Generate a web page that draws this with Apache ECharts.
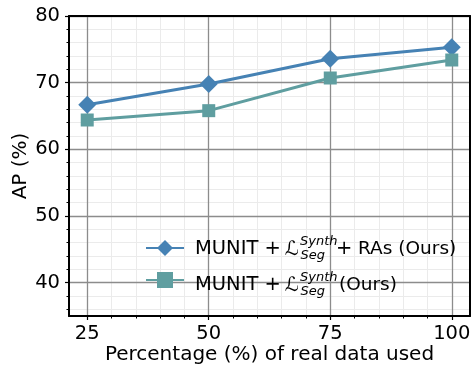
<!DOCTYPE html>
<html>
<head>
<meta charset="utf-8">
<script src="https://cdn.jsdelivr.net/npm/echarts@6/dist/echarts.min.js"></script>
<style>
html,body{margin:0;padding:0;background:#fff;}
#c{width:473px;height:367px;}
</style>
</head>
<body>
<div id="c"></div>
<script>
// ---- data ----
const xValues = [25, 50, 75, 100];
const seriesRAs = [66.7, 69.8, 73.6, 75.3];
const seriesBase = [64.4, 65.8, 70.7, 73.4];
const seriesNames = ['MUNIT + L Synth Seg + RAs (Ours)', 'MUNIT + L Synth Seg (Ours)'];
const xMajorTicks = [25, 50, 75, 100];
const yMajorTicks = [40, 50, 60, 70, 80];
const xMinorTicks = [];
for (let v = 20; v <= 105; v += 5) if (xMajorTicks.indexOf(v) < 0) xMinorTicks.push(v);
const yMinorTicks = [];
for (let v = 36; v <= 80; v += 2) if (yMajorTicks.indexOf(v) < 0) yMinorTicks.push(v);
const xRange = [21.25, 103.75];
const yRange = [35, 80];
const xTitle = 'Percentage (%) of real data used';
const yTitle = 'AP (%)';

const FONT = 'DejaVu Sans';
const FS = 19.5;
const MAJOR = '#8c8c8c';
const MINOR = '#ebebeb';
const C1 = '#4682B4';
const C2 = '#5F9EA0';

const chart = echarts.init(document.getElementById('c'), null, {renderer: 'canvas'});

function frameAxis(pos, isX) {
  return {
    type: 'value', position: pos, min: isX ? xRange[0] : yRange[0], max: isX ? xRange[1] : yRange[1],
    z: 10,
    axisLine: {show: true, onZero: false, lineStyle: {color: '#000', width: 2}},
    axisTick: {show: false}, axisLabel: {show: false}, splitLine: {show: false}
  };
}

const option = {
  animation: false,
  backgroundColor: '#fff',
  grid: {left: 69, right: 3, top: 16, bottom: 51, containLabel: false, outerBoundsMode: 'none'},
  xAxis: [
    { // minor
      type: 'value', position: 'bottom', min: xRange[0], max: xRange[1], z: 0,
      axisLine: {show: false, onZero: false},
      axisTick: {show: true, customValues: xMinorTicks, length: 2.5, lineStyle: {color: '#000', width: 1}},
      axisLabel: {show: false},
      splitLine: {show: true, lineStyle: {color: MINOR, width: 1}}
    },
    { // major
      type: 'value', position: 'bottom', min: xRange[0], max: xRange[1], z: 1,
      axisLine: {show: false, onZero: false},
      axisTick: {show: true, customValues: xMajorTicks, length: 4, lineStyle: {color: '#000', width: 1.2}},
      axisLabel: {show: true, customValues: xMajorTicks, color: '#000', fontFamily: FONT, fontSize: FS, margin: 8},
      splitLine: {show: true, lineStyle: {color: MAJOR, width: 1.3}},
      name: xTitle, nameLocation: 'middle', nameGap: 29, nameMoveOverlap: false,
      nameTextStyle: {color: '#000', fontFamily: FONT, fontSize: 20}
    },
    frameAxis('bottom', true),
    frameAxis('top', true)
  ],
  yAxis: [
    {
      type: 'value', position: 'left', min: yRange[0], max: yRange[1], z: 0,
      axisLine: {show: false, onZero: false},
      axisTick: {show: true, customValues: yMinorTicks, length: 2.5, lineStyle: {color: '#000', width: 1}},
      axisLabel: {show: false},
      splitLine: {show: true, lineStyle: {color: MINOR, width: 1}}
    },
    {
      type: 'value', position: 'left', min: yRange[0], max: yRange[1], z: 1,
      axisLine: {show: false, onZero: false},
      axisTick: {show: true, customValues: yMajorTicks, length: 4, lineStyle: {color: '#000', width: 1.2}},
      axisLabel: {show: true, customValues: yMajorTicks, color: '#000', fontFamily: FONT, fontSize: FS, margin: 9},
      splitLine: {show: true, lineStyle: {color: MAJOR, width: 1.3}},
      name: yTitle, nameLocation: 'middle', nameGap: 38, nameRotate: 90, nameMoveOverlap: false,
      nameTextStyle: {color: '#000', fontFamily: FONT, fontSize: 20}
    },
    frameAxis('left', false),
    frameAxis('right', false)
  ],
  legend: {
    show: true, orient: 'vertical', left: 145, top: 240, padding: 0,
    itemWidth: 38, itemHeight: 20, itemGap: 16,
    formatter: function () { return ' '; },
    textStyle: {fontSize: 2},
    data: seriesNames
  },
  series: [
    {
      name: seriesNames[0], type: 'line', xAxisIndex: 1, yAxisIndex: 1,
      data: xValues.map((x, i) => [x, seriesRAs[i]]),
      symbol: 'diamond', symbolSize: 18,
      lineStyle: {color: C1, width: 3}, itemStyle: {color: C1},
      z: 3
    },
    {
      name: seriesNames[1], type: 'line', xAxisIndex: 1, yAxisIndex: 1,
      data: xValues.map((x, i) => [x, seriesBase[i]]),
      symbol: 'rect', symbolSize: 13,
      lineStyle: {color: C2, width: 3}, itemStyle: {color: C2},
      z: 3
    }
  ]
};

// legend label text (with math sub/superscripts) drawn as real text
function legendTexts(yc, second) {
  const base = {fill: '#000', fontFamily: FONT, verticalAlign: 'middle', align: 'left'};
  const els = [
    {type: 'text', x: 195, y: yc, style: Object.assign({}, base, {text: 'MUNIT + ', fontSize: FS})},
    {type: 'text', x: 285, y: yc + 1, style: Object.assign({}, base, {text: 'ℒ', fontSize: FS, fontStyle: 'italic'})},
    {type: 'text', x: 300, y: yc - 7, style: Object.assign({}, base, {text: 'Synth', fontSize: 13, fontStyle: 'italic'})},
    {type: 'text', x: 300.5, y: yc + 7, style: Object.assign({}, base, {text: 'Seg', fontSize: 13, fontStyle: 'italic'})}
  ];
  if (!second) {
    els.push({type: 'text', x: 336, y: yc, style: Object.assign({}, base, {text: '+', fontSize: FS})});
    els.push({type: 'text', x: 358, y: yc, style: Object.assign({}, base, {text: 'RAs (Ours)', fontSize: 18.5})});
  } else {
    els.push({type: 'text', x: 339, y: yc, style: Object.assign({}, base, {text: '(Ours)', fontSize: 18.5})});
  }
  return els;
}
option.graphic = {elements: legendTexts(249, false).concat(legendTexts(285, true)).map(e => Object.assign(e, {z: 20}))};

chart.setOption(option);
</script>
</body>
</html>
